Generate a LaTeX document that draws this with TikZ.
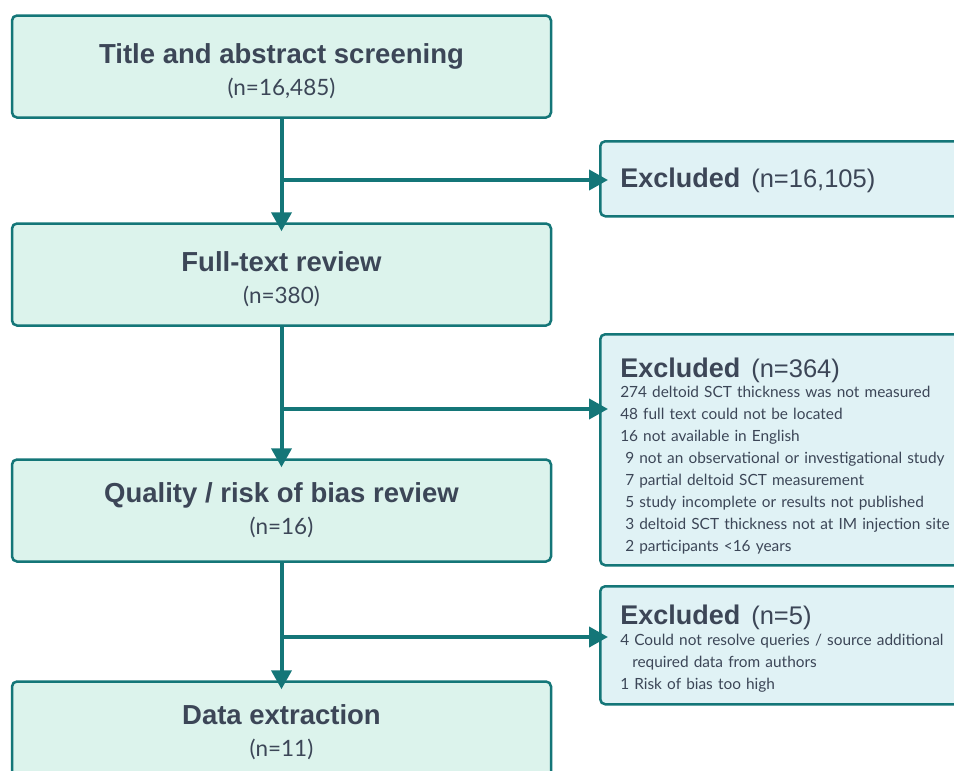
\documentclass[tikz,border=0pt]{standalone}
\usepackage{fontspec}
\setmainfont{Lato}
\newfontfamily\headfont{Liberation Sans}
\usetikzlibrary{arrows.meta,positioning}
\definecolor{tealline}{RGB}{20,118,120}
\definecolor{mintfill}{RGB}{220,243,236}
\definecolor{icefill}{RGB}{224,242,245}
\definecolor{inkgrey}{RGB}{60,70,87}
\newcommand{\stagehead}[1]{{\headfont\bfseries\fontsize{27.5}{30}\selectfont #1}}
\newcommand{\exclhead}[1]{{\headfont\fontsize{27}{30}\selectfont\textbf{Excluded}\hspace{11pt}{\fontsize{25.5}{30}\selectfont #1}}}

\begin{document}
\begin{tikzpicture}[x=1pt, y=-1pt, node distance=208pt, on grid,
    stage/.style={draw=tealline, line width=2.5pt, fill=mintfill, rounded corners=5pt,
        minimum width=539pt, minimum height=102pt, align=center, text=inkgrey,
        font=\fontsize{22.5}{32}\selectfont},
    excl/.style={draw=tealline, line width=2.5pt, fill=icefill, rounded corners=5pt,
        anchor=north west, text width=380pt, inner xsep=20pt, align=left, text=inkgrey,
        font=\fontsize{15.4}{22}\selectfont},
    flow/.style={draw=tealline, line width=4pt, -{Triangle[width=20pt,length=19pt]}, shorten >=-9pt}]
    \clip (0,0) rectangle (954,771);
    % main column
    \node[stage] (screen) at (281.5,66.5) {\rule{0pt}{29pt}\stagehead{Title and abstract screening}\\(n=16,485)};
    \node[stage] (fulltext) [below=208pt of screen] {\rule{0pt}{29pt}\stagehead{Full-text review}\\(n=380)};
    \node[stage] (quality) [below=236pt of fulltext] {\stagehead{Quality / risk of bias review}\\(n=16)};
    \node[stage] (extract) [below=222pt of quality] {\stagehead{Data extraction}\\(n=11)};
    % excluded boxes
    \node[excl, minimum height=75pt] (excl1) at (599,140) {\rule{0pt}{22pt}\exclhead{(n=16,105)}};
    \node[excl, minimum height=231pt] (excl2) at (599,333) {\rule{0pt}{32pt}\exclhead{(n=364)}\\[-2pt]
        274 deltoid SCT thickness was not measured\\
        48 full text could not be located\\
        16 not available in English\\
        \hspace*{5pt}9 not an observational or investigational study\\
        \hspace*{5pt}7 partial deltoid SCT measurement\\
        \hspace*{5pt}5 study incomplete or results not published\\
        \hspace*{5pt}3 deltoid SCT thickness not at IM injection site\\
        \hspace*{5pt}2 participants <16 years};
    \node[excl, minimum height=118pt] (excl3) at (599,585) {\rule{0pt}{26pt}\exclhead{(n=5)}\\[-1pt]
        4 Could not resolve queries / source additional\\
        \hspace*{12pt}required data from authors\\
        1 Risk of bias too high};
    % branch points
    \coordinate (br1) at (284,180);
    \coordinate (br2) at (284,409);
    \coordinate (br3) at (284,637);
    % connectors
    \draw[flow] (screen.south) -- (fulltext.north);
    \draw[flow] (fulltext.south) -- (quality.north);
    \draw[flow] (quality.south) -- (extract.north);
    \draw[flow] (br1) -- (br1 -| excl1.west);
    \draw[flow] (br2) -- (br2 -| excl2.west);
    \draw[flow] (br3) -- (br3 -| excl3.west);
\end{tikzpicture}
\end{document}
